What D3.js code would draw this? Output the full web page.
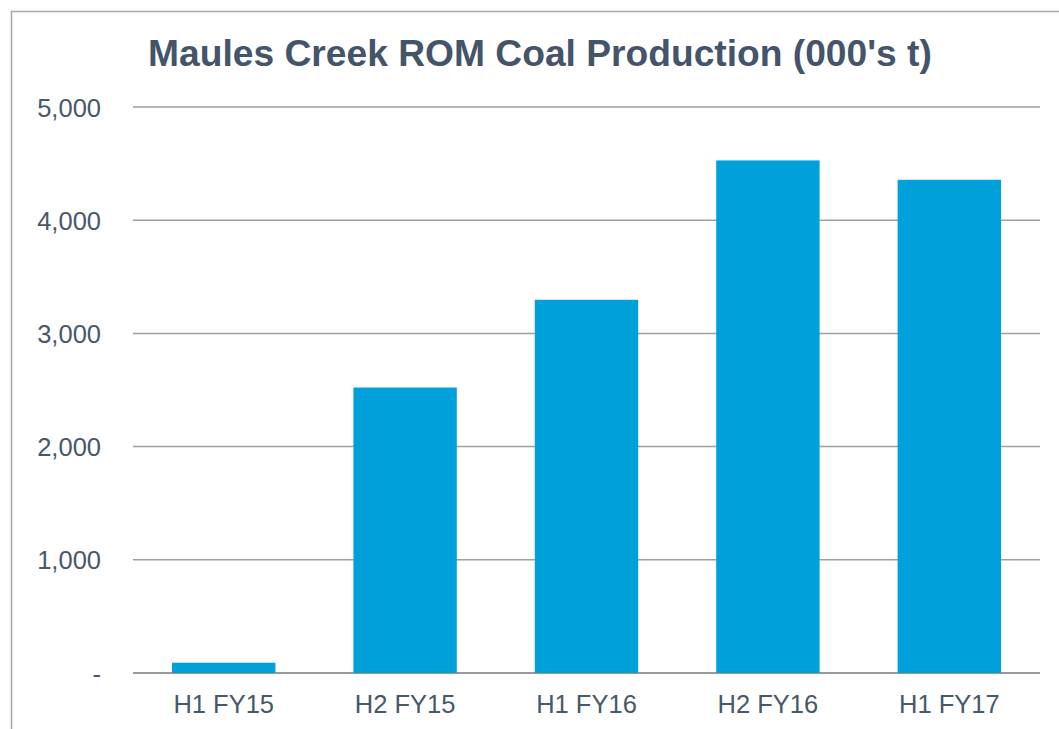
<!DOCTYPE html>
<html>
<head>
<meta charset="utf-8">
<script src="https://cdn.jsdelivr.net/npm/d3@7"></script>
<style>
  html, body { margin: 0; padding: 0; background: #fff; }
  svg { display: block; }
  text { font-family: "Liberation Sans", Arial, sans-serif; }
</style>
</head>
<body>
<svg id="chart" width="1059" height="729"></svg>
<script>
const title = "Maules Creek ROM Coal Production (000's t)";
const categories = ["H1 FY15", "H2 FY15", "H1 FY16", "H2 FY16", "H1 FY17"];
const values = [91, 2522, 3297, 4528, 4357];
const yTicks = [0, 1000, 2000, 3000, 4000, 5000];
const yTickLabels = ["-", "1,000", "2,000", "3,000", "4,000", "5,000"];

const svg = d3.select("#chart");
const W = 1059, H = 729;
const margin = { left: 133, right: 19, top: 107, bottom: 56 };

// outer frame
svg.append("rect")
  .attr("x", 11.5).attr("y", 11.5)
  .attr("width", W + 20).attr("height", H + 20)
  .attr("fill", "none").attr("stroke", "#a6a6a6").attr("stroke-width", 1.5);

const x = d3.scaleBand()
  .domain(categories)
  .range([margin.left, W - margin.right])
  .paddingInner(0.43)
  .paddingOuter(0.215);

const y = d3.scaleLinear()
  .domain([0, 5000])
  .range([H - margin.bottom, margin.top]);

// gridlines
svg.append("g")
  .selectAll("line")
  .data(yTicks)
  .join("line")
  .attr("x1", margin.left).attr("x2", W - margin.right)
  .attr("y1", d => y(d)).attr("y2", d => y(d))
  .attr("stroke", d => d === 0 ? "#999999" : "#a0a0a0")
  .attr("stroke-width", d => d === 0 ? 2 : 1.5);

// bars
svg.append("g")
  .selectAll("rect")
  .data(values)
  .join("rect")
  .attr("x", (d, i) => x(categories[i]))
  .attr("width", x.bandwidth())
  .attr("y", d => y(d))
  .attr("height", d => y(0) - y(d))
  .attr("fill", "#00A0DB");

// y axis
const yAxis = d3.axisLeft(y)
  .tickValues(yTicks)
  .tickFormat((d, i) => yTickLabels[i])
  .tickSize(0)
  .tickPadding(32);
const gy = svg.append("g")
  .attr("transform", `translate(${margin.left},0)`)
  .call(yAxis);
gy.select(".domain").remove();
gy.selectAll("text")
  .attr("fill", "#475869")
  .style("font-size", "25.5px")
  .attr("dy", "0.36em");

// x axis
const xAxis = d3.axisBottom(x).tickSize(0).tickPadding(22);
const gx = svg.append("g")
  .attr("transform", `translate(0,${y(0)})`)
  .call(xAxis);
gx.select(".domain").remove();
gx.selectAll("text")
  .attr("fill", "#475869")
  .style("font-size", "25.5px");

// title
svg.append("text")
  .attr("x", 540).attr("y", 66)
  .attr("text-anchor", "middle")
  .attr("fill", "#44546A")
  .style("font-size", "37.2px")
  .style("font-weight", "bold")
  .text(title);
</script>
</body>
</html>
